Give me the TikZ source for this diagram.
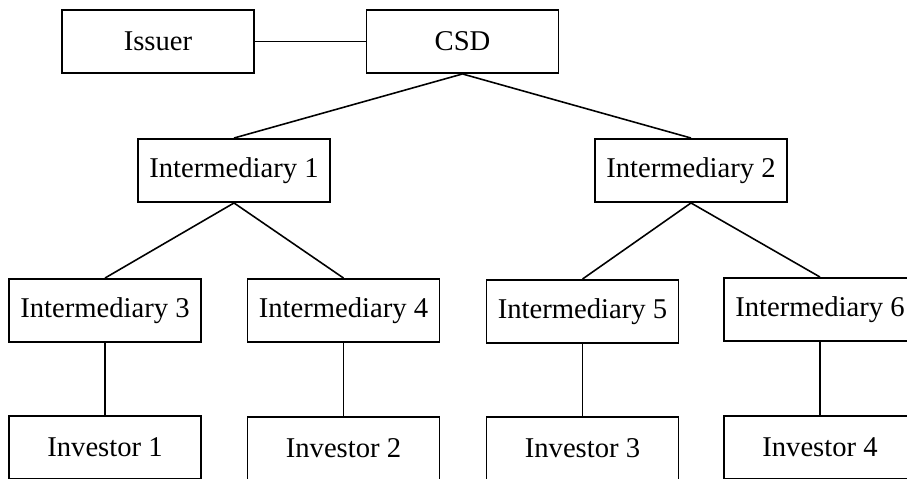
\documentclass[tikz,border=0pt]{standalone}
\usepackage{fontspec}
\setmainfont{Liberation Serif}

\begin{document}
\begin{tikzpicture}[line width=.9pt,
	box/.style={draw,line width=1.1pt,minimum width=3.84cm,minimum height=1.26cm,inner sep=0pt,font=\fontsize{16.3}{19}\selectfont}]
	% page
		\useasboundingbox (0,0) rectangle (18.14,-9.56);
	% top row
		\node[box] (issuer) at (3.16,-.83) {Issuer};
		\node[box] (csd) at (9.25,-.83) {CSD};
		\draw (issuer) -- (csd);
	% first intermediaries
		\node[box] (int1) at (4.68,-3.41) {Intermediary 1};
		\node[box] (int2) at (13.82,-3.41) {Intermediary 2};
		\draw (csd.south) -- (int1.north);
		\draw (csd.south) -- (int2.north);
	% second intermediaries
		\node[box] (int3) at (2.10,-6.21) {Intermediary 3};
		\node[box] (int4) at (6.87,-6.21) {Intermediary 4};
		\node[box] (int5) at (11.65,-6.23) {Intermediary 5};
		\node[box] (int6) at (16.40,-6.19) {Intermediary 6};
		\draw (int1.south) -- (int3.north);
		\draw (int1.south) -- (int4.north);
		\draw (int2.south) -- (int5.north);
		\draw (int2.south) -- (int6.north);
	% investors
		\node[box] (inv1) at (2.10,-8.95) {Investor 1};
		\node[box] (inv2) at (6.87,-8.97) {Investor 2};
		\node[box] (inv3) at (11.65,-8.97) {Investor 3};
		\node[box] (inv4) at (16.40,-8.95) {Investor 4};
		\draw (int3) -- (inv1);
		\draw (int4) -- (inv2);
		\draw (int5) -- (inv3);
		\draw (int6) -- (inv4);
\end{tikzpicture}
\end{document}
